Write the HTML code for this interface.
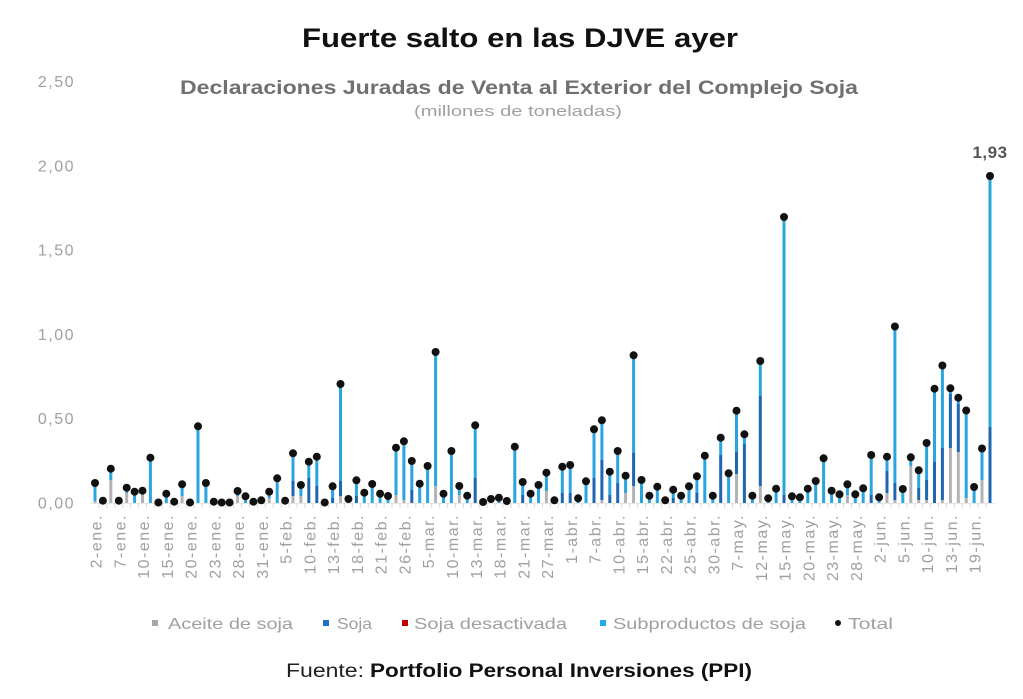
<!DOCTYPE html>
<html><head><meta charset="utf-8"><style>
html,body{margin:0;padding:0;background:#fff;}
svg{display:block;font-family:"Liberation Sans",sans-serif;}
.d circle{r:4px;}
</style></head><body>
<svg width="1023" height="699" viewBox="0 0 1023 699" xmlns="http://www.w3.org/2000/svg">
<rect width="1023" height="699" fill="#fff"/>
<text x="302" y="47" font-size="27" font-weight="bold" fill="#111" textLength="436" lengthAdjust="spacingAndGlyphs">Fuerte salto en las DJVE ayer</text>
<text x="180" y="94" font-size="19" font-weight="bold" fill="#707070" textLength="678" lengthAdjust="spacingAndGlyphs">Declaraciones Juradas de Venta al Exterior del Complejo Soja</text>
<text x="414" y="116" font-size="15" fill="#a0a0a0" textLength="208" lengthAdjust="spacingAndGlyphs">(millones de toneladas)</text>
<g font-size="16" fill="#a0a0a0" text-anchor="end" letter-spacing="1.5">
<text x="75" y="87">2,50</text><text x="75" y="171.5">2,00</text><text x="75" y="255.5">1,50</text><text x="75" y="340">1,00</text><text x="75" y="424">0,50</text><text x="75" y="508.5">0,00</text>
</g>
<path d="M90 503.5H995" stroke="#e8e8e8" stroke-width="1"/>
<g stroke="#dcdcdc" stroke-width="1">
<path d="M99 503v5M106.9 503v5M114.8 503v5M122.8 503v5M130.7 503v5M138.6 503v5M146.5 503v5M154.4 503v5M162.4 503v5M170.3 503v5M178.2 503v5M186.1 503v5M194 503v5M202 503v5M209.9 503v5M217.8 503v5M225.7 503v5M233.6 503v5M241.6 503v5M249.5 503v5M257.4 503v5M265.3 503v5M273.2 503v5M281.2 503v5M289.1 503v5M297 503v5M304.9 503v5M312.8 503v5M320.8 503v5M328.7 503v5M336.6 503v5M344.5 503v5M352.4 503v5M360.4 503v5M368.3 503v5M376.2 503v5M384.1 503v5M392 503v5M400 503v5M407.9 503v5M415.8 503v5M423.7 503v5M431.6 503v5M439.6 503v5M447.5 503v5M455.4 503v5M463.3 503v5M471.2 503v5M479.2 503v5M487.1 503v5M495 503v5M502.9 503v5M510.8 503v5M518.8 503v5M526.7 503v5M534.6 503v5M542.5 503v5M550.4 503v5M558.4 503v5M566.3 503v5M574.2 503v5M582.1 503v5M590 503v5M598 503v5M605.9 503v5M613.8 503v5M621.7 503v5M629.6 503v5M637.6 503v5M645.5 503v5M653.4 503v5M661.3 503v5M669.2 503v5M677.2 503v5M685.1 503v5M693 503v5M700.9 503v5M708.8 503v5M716.8 503v5M724.7 503v5M732.6 503v5M740.5 503v5M748.4 503v5M756.4 503v5M764.3 503v5M772.2 503v5M780.1 503v5M788 503v5M796 503v5M803.9 503v5M811.8 503v5M819.7 503v5M827.6 503v5M835.6 503v5M843.5 503v5M851.4 503v5M859.3 503v5M867.2 503v5M875.2 503v5M883.1 503v5M891 503v5M898.9 503v5M906.8 503v5M914.8 503v5M922.7 503v5M930.6 503v5M938.5 503v5M946.4 503v5M954.4 503v5M962.3 503v5M970.2 503v5M978.1 503v5M986 503v5"/>
</g>
<path fill="none" stroke="#b3b3b3" stroke-width="3" d="M95 503V501.3M110.8 503V480M126.7 503V493M142.5 503V490.7M182.1 503V496M237.6 503V496M269.2 503V498M293 503V496M300.9 503V496M340.5 503V496M396 503V495M403.9 503V500M435.6 503V486M459.3 503V495M546.4 503V491M601.9 503V500M625.6 503V493M633.6 503V486M736.5 503V474M760.3 503V486M847.4 503V495M887 503V493M894.9 503V500M910.8 503V466M918.7 503V500M926.6 503V500M942.4 503V500M950.4 503V448M958.3 503V452M966.2 503V498M982 503V480"/>
<path fill="none" stroke="#1f66b0" stroke-width="3" d="M293 496V481M308.8 503V478M316.8 503V486M332.6 503V498M340.5 496V481M356.4 503V496M411.8 503V490M475.2 503V478M522.7 503V495M562.3 503V493M570.2 503V493M594 503V478M601.9 500V460M609.8 503V495M617.7 503V483M633.6 486V453M673.2 503V498M696.9 503V493M720.7 503V455M736.5 474V452M744.4 503V444M760.3 486V396M784 503V495M871.2 503V495M887 493V471M894.9 500V483M918.7 500V488M926.6 500V480M934.5 503V462M942.4 500V448M950.4 448V394M958.3 452V404M990 503V427"/>
<path fill="none" stroke="#29a6df" stroke-width="3" d="M95 501.3V483M102.9 503V500.7M110.8 480V468.7M118.8 503V500.7M126.7 493V487.7M134.6 503V491.7M150.4 503V457.7M158.4 503V502M166.3 503V493.7M174.2 503V501.7M182.1 496V484.3M190 503V502M198 503V426.3M205.9 503V483M213.8 503V501.7M221.7 503V502M229.6 503V502M237.6 496V491M245.5 503V496.3M253.4 503V501.7M261.3 503V500.3M269.2 498V491.7M277.2 503V478.3M285.1 503V500.7M293 481V453.3M300.9 496V485M308.8 478V461.7M316.8 486V456.7M324.7 503V502M332.6 498V486.3M340.5 481V384M348.4 503V499M356.4 496V480.3M364.3 503V492.7M372.2 503V484M380.1 503V493.7M388 503V496M396 495V447.7M403.9 500V441.3M411.8 490V461M419.7 503V483.7M427.6 503V466M435.6 486V352M443.5 503V493.7M451.4 503V451M459.3 495V486M467.2 503V495.7M475.2 478V425.3M483.1 503V502M491 503V499M498.9 503V497.7M506.8 503V501M514.8 503V446.7M522.7 495V482M530.6 503V493.7M538.5 503V485M546.4 491V472.7M554.4 503V500.3M562.3 493V466.7M570.2 493V465M578.1 503V498.3M586 503V481.3M594 478V429.3M601.9 460V420.3M609.8 495V471.7M617.7 483V451M625.6 493V475.7M633.6 453V355.3M641.5 503V480M649.4 503V495.7M657.3 503V486.7M665.2 503V500.3M673.2 498V489.7M681.1 503V495.7M689 503V486.3M696.9 493V476.3M704.8 503V455.7M712.8 503V495.7M720.7 455V437.7M728.6 503V473.3M736.5 452V410.7M744.4 444V434.3M752.4 503V495.7M760.3 396V361M768.2 503V498.3M776.1 503V488.7M784 495V217M792 503V496.3M799.9 503V497.3M807.8 503V488.7M815.7 503V481M823.6 503V458.3M831.6 503V490.7M839.5 503V494.3M847.4 495V484.3M855.3 503V494.3M863.2 503V488.3M871.2 495V455M879.1 503V497.3M887 471V456.7M894.9 483V326.5M902.8 503V489M910.8 466V457.3M918.7 488V470.3M926.6 480V443M934.5 462V388.7M942.4 448V365.5M950.4 394V388.3M958.3 404V397.7M966.2 498V410.5M974.1 503V487M982 480V448.5M990 427V176"/>
<g fill="#111" class="d">
<circle cx="95" cy="483" r="4"/><circle cx="102.9" cy="500.7" r="4"/><circle cx="110.8" cy="468.7" r="4"/><circle cx="118.8" cy="500.7" r="4"/><circle cx="126.7" cy="487.7" r="4"/><circle cx="134.6" cy="491.7" r="4"/><circle cx="142.5" cy="490.7" r="4"/><circle cx="150.4" cy="457.7" r="4"/><circle cx="158.4" cy="502.5" r="4"/><circle cx="166.3" cy="493.7" r="4"/><circle cx="174.2" cy="501.7" r="4"/><circle cx="182.1" cy="484.3" r="4"/><circle cx="190" cy="502.5" r="4"/><circle cx="198" cy="426.3" r="4"/><circle cx="205.9" cy="483" r="4"/><circle cx="213.8" cy="501.7" r="4"/><circle cx="221.7" cy="502.5" r="4"/><circle cx="229.6" cy="502.5" r="4"/><circle cx="237.6" cy="491" r="4"/><circle cx="245.5" cy="496.3" r="4"/><circle cx="253.4" cy="501.7" r="4"/><circle cx="261.3" cy="500.3" r="4"/><circle cx="269.2" cy="491.7" r="4"/><circle cx="277.2" cy="478.3" r="4"/><circle cx="285.1" cy="500.7" r="4"/><circle cx="293" cy="453.3" r="4"/><circle cx="300.9" cy="485" r="4"/><circle cx="308.8" cy="461.7" r="4"/><circle cx="316.8" cy="456.7" r="4"/><circle cx="324.7" cy="502.5" r="4"/><circle cx="332.6" cy="486.3" r="4"/><circle cx="340.5" cy="384" r="4"/><circle cx="348.4" cy="499" r="4"/><circle cx="356.4" cy="480.3" r="4"/><circle cx="364.3" cy="492.7" r="4"/><circle cx="372.2" cy="484" r="4"/><circle cx="380.1" cy="493.7" r="4"/><circle cx="388" cy="496" r="4"/><circle cx="396" cy="447.7" r="4"/><circle cx="403.9" cy="441.3" r="4"/><circle cx="411.8" cy="461" r="4"/><circle cx="419.7" cy="483.7" r="4"/><circle cx="427.6" cy="466" r="4"/><circle cx="435.6" cy="352" r="4"/><circle cx="443.5" cy="493.7" r="4"/><circle cx="451.4" cy="451" r="4"/><circle cx="459.3" cy="486" r="4"/><circle cx="467.2" cy="495.7" r="4"/><circle cx="475.2" cy="425.3" r="4"/><circle cx="483.1" cy="502" r="4"/><circle cx="491" cy="499" r="4"/><circle cx="498.9" cy="497.7" r="4"/><circle cx="506.8" cy="501" r="4"/><circle cx="514.8" cy="446.7" r="4"/><circle cx="522.7" cy="482" r="4"/><circle cx="530.6" cy="493.7" r="4"/><circle cx="538.5" cy="485" r="4"/><circle cx="546.4" cy="472.7" r="4"/><circle cx="554.4" cy="500.3" r="4"/><circle cx="562.3" cy="466.7" r="4"/><circle cx="570.2" cy="465" r="4"/><circle cx="578.1" cy="498.3" r="4"/><circle cx="586" cy="481.3" r="4"/><circle cx="594" cy="429.3" r="4"/><circle cx="601.9" cy="420.3" r="4"/><circle cx="609.8" cy="471.7" r="4"/><circle cx="617.7" cy="451" r="4"/><circle cx="625.6" cy="475.7" r="4"/><circle cx="633.6" cy="355.3" r="4"/><circle cx="641.5" cy="480" r="4"/><circle cx="649.4" cy="495.7" r="4"/><circle cx="657.3" cy="486.7" r="4"/><circle cx="665.2" cy="500.3" r="4"/><circle cx="673.2" cy="489.7" r="4"/><circle cx="681.1" cy="495.7" r="4"/><circle cx="689" cy="486.3" r="4"/><circle cx="696.9" cy="476.3" r="4"/><circle cx="704.8" cy="455.7" r="4"/><circle cx="712.8" cy="495.7" r="4"/><circle cx="720.7" cy="437.7" r="4"/><circle cx="728.6" cy="473.3" r="4"/><circle cx="736.5" cy="410.7" r="4"/><circle cx="744.4" cy="434.3" r="4"/><circle cx="752.4" cy="495.7" r="4"/><circle cx="760.3" cy="361" r="4"/><circle cx="768.2" cy="498.3" r="4"/><circle cx="776.1" cy="488.7" r="4"/><circle cx="784" cy="217" r="4"/><circle cx="792" cy="496.3" r="4"/><circle cx="799.9" cy="497.3" r="4"/><circle cx="807.8" cy="488.7" r="4"/><circle cx="815.7" cy="481" r="4"/><circle cx="823.6" cy="458.3" r="4"/><circle cx="831.6" cy="490.7" r="4"/><circle cx="839.5" cy="494.3" r="4"/><circle cx="847.4" cy="484.3" r="4"/><circle cx="855.3" cy="494.3" r="4"/><circle cx="863.2" cy="488.3" r="4"/><circle cx="871.2" cy="455" r="4"/><circle cx="879.1" cy="497.3" r="4"/><circle cx="887" cy="456.7" r="4"/><circle cx="894.9" cy="326.5" r="4"/><circle cx="902.8" cy="489" r="4"/><circle cx="910.8" cy="457.3" r="4"/><circle cx="918.7" cy="470.3" r="4"/><circle cx="926.6" cy="443" r="4"/><circle cx="934.5" cy="388.7" r="4"/><circle cx="942.4" cy="365.5" r="4"/><circle cx="950.4" cy="388.3" r="4"/><circle cx="958.3" cy="397.7" r="4"/><circle cx="966.2" cy="410.5" r="4"/><circle cx="974.1" cy="487" r="4"/><circle cx="982" cy="448.5" r="4"/><circle cx="990" cy="176" r="4"/>
</g>
<text x="990" y="158" font-size="17" font-weight="bold" fill="#555" text-anchor="middle" letter-spacing="0.5">1,93</text>
<g font-size="16" fill="#a0a0a0" text-anchor="end" letter-spacing="1.5">
<text transform="translate(96,514) rotate(-90)" dy="0.35em">2-ene.</text>
<text transform="translate(119.8,514) rotate(-90)" dy="0.35em">7-ene.</text>
<text transform="translate(143.5,514) rotate(-90)" dy="0.35em">10-ene.</text>
<text transform="translate(167.3,514) rotate(-90)" dy="0.35em">15-ene.</text>
<text transform="translate(191,514) rotate(-90)" dy="0.35em">20-ene.</text>
<text transform="translate(214.8,514) rotate(-90)" dy="0.35em">23-ene.</text>
<text transform="translate(238.6,514) rotate(-90)" dy="0.35em">28-ene.</text>
<text transform="translate(262.3,514) rotate(-90)" dy="0.35em">31-ene.</text>
<text transform="translate(286.1,514) rotate(-90)" dy="0.35em">5-feb.</text>
<text transform="translate(309.8,514) rotate(-90)" dy="0.35em">10-feb.</text>
<text transform="translate(333.6,514) rotate(-90)" dy="0.35em">13-feb.</text>
<text transform="translate(357.4,514) rotate(-90)" dy="0.35em">18-feb.</text>
<text transform="translate(381.1,514) rotate(-90)" dy="0.35em">21-feb.</text>
<text transform="translate(404.9,514) rotate(-90)" dy="0.35em">26-feb.</text>
<text transform="translate(428.6,514) rotate(-90)" dy="0.35em">5-mar.</text>
<text transform="translate(452.4,514) rotate(-90)" dy="0.35em">10-mar.</text>
<text transform="translate(476.2,514) rotate(-90)" dy="0.35em">13-mar.</text>
<text transform="translate(499.9,514) rotate(-90)" dy="0.35em">18-mar.</text>
<text transform="translate(523.7,514) rotate(-90)" dy="0.35em">21-mar.</text>
<text transform="translate(547.4,514) rotate(-90)" dy="0.35em">27-mar.</text>
<text transform="translate(571.2,514) rotate(-90)" dy="0.35em">1-abr.</text>
<text transform="translate(595,514) rotate(-90)" dy="0.35em">7-abr.</text>
<text transform="translate(618.7,514) rotate(-90)" dy="0.35em">10-abr.</text>
<text transform="translate(642.5,514) rotate(-90)" dy="0.35em">15-abr.</text>
<text transform="translate(666.2,514) rotate(-90)" dy="0.35em">22-abr.</text>
<text transform="translate(690,514) rotate(-90)" dy="0.35em">25-abr.</text>
<text transform="translate(713.8,514) rotate(-90)" dy="0.35em">30-abr.</text>
<text transform="translate(737.5,514) rotate(-90)" dy="0.35em">7-may.</text>
<text transform="translate(761.3,514) rotate(-90)" dy="0.35em">12-may.</text>
<text transform="translate(785,514) rotate(-90)" dy="0.35em">15-may.</text>
<text transform="translate(808.8,514) rotate(-90)" dy="0.35em">20-may.</text>
<text transform="translate(832.6,514) rotate(-90)" dy="0.35em">23-may.</text>
<text transform="translate(856.3,514) rotate(-90)" dy="0.35em">28-may.</text>
<text transform="translate(880.1,514) rotate(-90)" dy="0.35em">2-jun.</text>
<text transform="translate(903.8,514) rotate(-90)" dy="0.35em">5-jun.</text>
<text transform="translate(927.6,514) rotate(-90)" dy="0.35em">10-jun.</text>
<text transform="translate(951.4,514) rotate(-90)" dy="0.35em">13-jun.</text>
<text transform="translate(975.1,514) rotate(-90)" dy="0.35em">19-jun.</text>
</g>
<g font-size="16" fill="#a0a0a0">
<rect x="152" y="620" width="6" height="6" fill="#a6a6a6"/>
<text x="168" y="629" textLength="125" lengthAdjust="spacingAndGlyphs">Aceite de soja</text>
<rect x="323" y="620" width="6" height="6" fill="#1f6fc4"/>
<text x="337" y="629" textLength="35" lengthAdjust="spacingAndGlyphs">Soja</text>
<rect x="402" y="620" width="6" height="6" fill="#c00000"/>
<text x="414" y="629" textLength="153" lengthAdjust="spacingAndGlyphs">Soja desactivada</text>
<rect x="600" y="620" width="6" height="6" fill="#1faee8"/>
<text x="613" y="629" textLength="193" lengthAdjust="spacingAndGlyphs">Subproductos de soja</text>
<circle cx="838" cy="623" r="3" fill="#111"/>
<text x="848" y="629" textLength="45" lengthAdjust="spacingAndGlyphs">Total</text>
</g>
<text x="286" y="677" font-size="19" fill="#222" textLength="78" lengthAdjust="spacingAndGlyphs">Fuente:</text>
<text x="370" y="677" font-size="19" font-weight="bold" fill="#111" textLength="382" lengthAdjust="spacingAndGlyphs">Portfolio Personal Inversiones (PPI)</text>
</svg>
</body></html>
